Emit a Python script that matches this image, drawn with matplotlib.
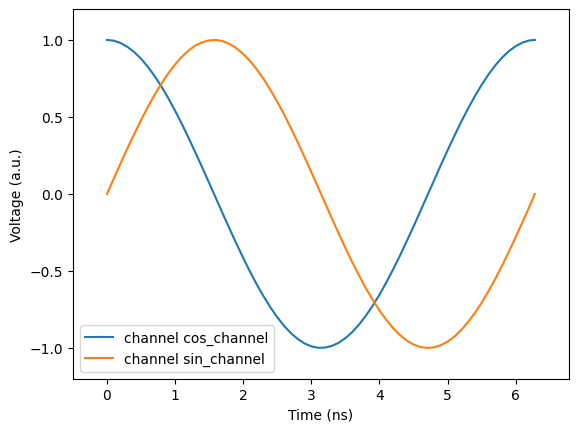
import matplotlib
matplotlib.use('Agg')
import matplotlib.pyplot as plt

# 采样时间点 (ns) 及两个通道的电压读数
time_ns = [0.0, 0.1, 0.2, 0.3, 0.4, 0.5, 0.6, 0.7, 0.8, 0.9, 1.0, 1.1, 1.2, 1.3, 1.4, 1.5,
           1.6, 1.7, 1.8, 1.9, 2.0, 2.1, 2.2, 2.3, 2.4, 2.5, 2.6, 2.7, 2.8, 2.9, 3.0, 3.1,
           3.2, 3.3, 3.4, 3.5, 3.6, 3.7, 3.8, 3.9, 4.0, 4.1, 4.2, 4.3, 4.4, 4.5, 4.6, 4.7,
           4.8, 4.9, 5.0, 5.1, 5.2, 5.3, 5.4, 5.5, 5.6, 5.7, 5.8, 5.9, 6.0, 6.1, 6.2, 6.28]
cos_channel = [1.000, 0.995, 0.980, 0.955, 0.921, 0.878, 0.825, 0.765, 0.697, 0.622, 0.540,
               0.454, 0.362, 0.267, 0.170, 0.071, -0.029, -0.129, -0.227, -0.323, -0.416,
               -0.505, -0.589, -0.666, -0.737, -0.801, -0.857, -0.904, -0.942, -0.971, -0.990,
               -0.999, -0.998, -0.987, -0.967, -0.936, -0.897, -0.848, -0.791, -0.726, -0.654,
               -0.575, -0.490, -0.401, -0.307, -0.211, -0.112, -0.012, 0.087, 0.187, 0.284,
               0.378, 0.469, 0.554, 0.635, 0.709, 0.776, 0.835, 0.886, 0.927, 0.960, 0.983,
               0.997, 1.000]
sin_channel = [0.000, 0.100, 0.199, 0.296, 0.389, 0.479, 0.565, 0.644, 0.717, 0.783, 0.841,
               0.891, 0.932, 0.964, 0.985, 0.997, 1.000, 0.992, 0.974, 0.946, 0.909,
               0.863, 0.808, 0.746, 0.675, 0.598, 0.516, 0.427, 0.335, 0.239, 0.141,
               0.042, -0.058, -0.158, -0.256, -0.351, -0.443, -0.530, -0.612, -0.688, -0.757,
               -0.818, -0.872, -0.916, -0.952, -0.978, -0.994, -1.000, -0.996, -0.982, -0.959,
               -0.926, -0.883, -0.832, -0.773, -0.706, -0.631, -0.551, -0.465, -0.374, -0.279,
               -0.182, -0.083, 0.000]

channels = {'cos_channel': cos_channel, 'sin_channel': sin_channel}

fig, ax = plt.subplots(figsize=(6.4, 4.8), dpi=100)
for name, values in channels.items():
    ax.plot(time_ns, values, label=f'channel {name}')

ax.set_xlim(-0.5, 6.78)
ax.set_ylim(-1.2, 1.2)
ax.set_xlabel('Time (ns)')
ax.set_ylabel('Voltage (a.u.)')
ax.legend(loc='lower left')

plt.savefig('out.png', dpi=100, bbox_inches='tight', facecolor='white')
